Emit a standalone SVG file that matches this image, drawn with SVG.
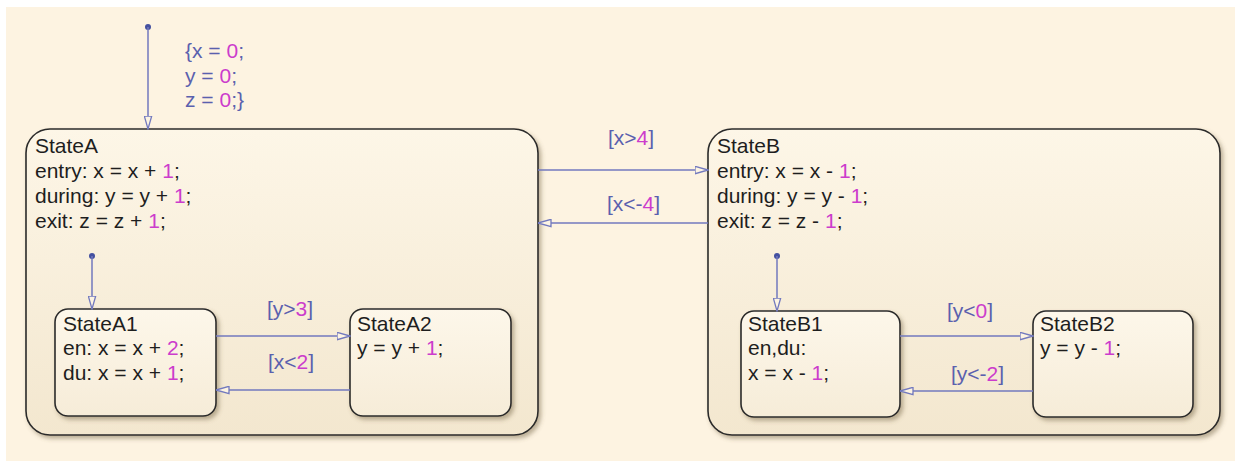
<svg xmlns="http://www.w3.org/2000/svg" width="1235" height="461" viewBox="0 0 1235 461">
<style>
.st{stroke:#2b2b2b;stroke-width:1.6;filter:url(#sh)}
.big{fill:url(#gBig)}
.small{fill:url(#gSmall)}
text{font-family:"Liberation Sans",Arial,sans-serif;font-size:21px}
.t{fill:#1e1e1e}
.lb{fill:#5a60ae}
.n{fill:#cc3ccc}
.tr{stroke:#7279be;stroke-width:1.5;fill:none}
.dot{fill:#4450a0}
</style>
<defs>
<linearGradient id="gBig" x1="0" y1="0" x2="0" y2="1">
<stop offset="0" stop-color="#fdf6e7"/>
<stop offset="1" stop-color="#f3e7cf"/>
</linearGradient>
<linearGradient id="gSmall" x1="0" y1="0" x2="0" y2="1">
<stop offset="0" stop-color="#fdf7ea"/>
<stop offset="1" stop-color="#f6ecd8"/>
</linearGradient>
<filter id="sh" x="-5%" y="-5%" width="112%" height="115%">
<feDropShadow dx="2.5" dy="3" stdDeviation="2" flood-color="#6b5a3a" flood-opacity="0.45"/>
</filter>
<marker id="ar" viewBox="0 0 14 9" refX="13.5" refY="4.5" markerWidth="14" markerHeight="9" markerUnits="userSpaceOnUse" orient="auto">
<path d="M0.5,0.8 L13.5,4.5 L0.5,8.2 Z" fill="#fdf4e3" stroke="#7279be" stroke-width="1.3"/>
</marker>
</defs>
<rect x="0" y="0" width="1235" height="461" fill="#ffffff"/>
<rect x="6" y="7" width="1229" height="454" fill="#fdf3e1"/>

<g id="StateA">
<rect class="st big" x="26" y="129" width="512" height="306" rx="24" ry="24"/>
<text class="t" x="35" y="153">StateA</text>
<text class="t" x="35" y="178">entry: x = x + <tspan class="n">1</tspan>;</text>
<text class="t" x="35" y="203">during: y = y + <tspan class="n">1</tspan>;</text>
<text class="t" x="35" y="228">exit: z = z + <tspan class="n">1</tspan>;</text>
</g>

<g id="StateB">
<rect class="st big" x="708" y="129" width="512" height="306" rx="24" ry="24"/>
<text class="t" x="717" y="153">StateB</text>
<text class="t" x="717" y="178">entry: x = x - <tspan class="n">1</tspan>;</text>
<text class="t" x="717" y="203">during: y = y - <tspan class="n">1</tspan>;</text>
<text class="t" x="717" y="228">exit: z = z - <tspan class="n">1</tspan>;</text>
</g>

<g id="StateA1">
<rect class="st small" x="55" y="309" width="161" height="107" rx="13" ry="13"/>
<text class="t" x="63" y="331">StateA1</text>
<text class="t" x="63" y="355">en: x = x + <tspan class="n">2</tspan>;</text>
<text class="t" x="63" y="380">du: x = x + <tspan class="n">1</tspan>;</text>
</g>

<g id="StateA2">
<rect class="st small" x="350" y="309" width="161" height="107" rx="13" ry="13"/>
<text class="t" x="357" y="331">StateA2</text>
<text class="t" x="357" y="355">y = y + <tspan class="n">1</tspan>;</text>
</g>

<g id="StateB1">
<rect class="st small" x="741" y="311" width="159" height="106" rx="13" ry="13"/>
<text class="t" x="748" y="331">StateB1</text>
<text class="t" x="748" y="355">en,du:</text>
<text class="t" x="748" y="380">x = x - <tspan class="n">1</tspan>;</text>
</g>

<g id="StateB2">
<rect class="st small" x="1033" y="311" width="160" height="106" rx="13" ry="13"/>
<text class="t" x="1040" y="331">StateB2</text>
<text class="t" x="1040" y="355">y = y - <tspan class="n">1</tspan>;</text>
</g>

<g id="connectors">
<circle class="dot" cx="148" cy="27" r="3"/>
<path class="tr" d="M148,27 L148,129" marker-end="url(#ar)"/>
<text class="lb" x="185" y="58">{x = <tspan class="n">0</tspan>;</text>
<text class="lb" x="185" y="83">y = <tspan class="n">0</tspan>;</text>
<text class="lb" x="185" y="107">z = <tspan class="n">0</tspan>;}</text>

<path class="tr" d="M538,170 L708,170" marker-end="url(#ar)"/>
<text class="lb" x="608" y="145">[x&gt;<tspan class="n">4</tspan>]</text>
<path class="tr" d="M708,223 L538,223" marker-end="url(#ar)"/>
<text class="lb" x="607" y="211">[x&lt;-<tspan class="n">4</tspan>]</text>

<circle class="dot" cx="92" cy="256" r="3"/>
<path class="tr" d="M92,256 L92,309" marker-end="url(#ar)"/>
<path class="tr" d="M216,336 L350,336" marker-end="url(#ar)"/>
<text class="lb" x="267" y="316">[y&gt;<tspan class="n">3</tspan>]</text>
<path class="tr" d="M350,390 L216,390" marker-end="url(#ar)"/>
<text class="lb" x="268" y="369">[x&lt;<tspan class="n">2</tspan>]</text>

<circle class="dot" cx="777" cy="256" r="3"/>
<path class="tr" d="M777,256 L777,311" marker-end="url(#ar)"/>
<path class="tr" d="M900,336 L1033,336" marker-end="url(#ar)"/>
<text class="lb" x="947" y="318">[y&lt;<tspan class="n">0</tspan>]</text>
<path class="tr" d="M1033,391 L900,391" marker-end="url(#ar)"/>
<text class="lb" x="951" y="381">[y&lt;-<tspan class="n">2</tspan>]</text>
</g>
</svg>
